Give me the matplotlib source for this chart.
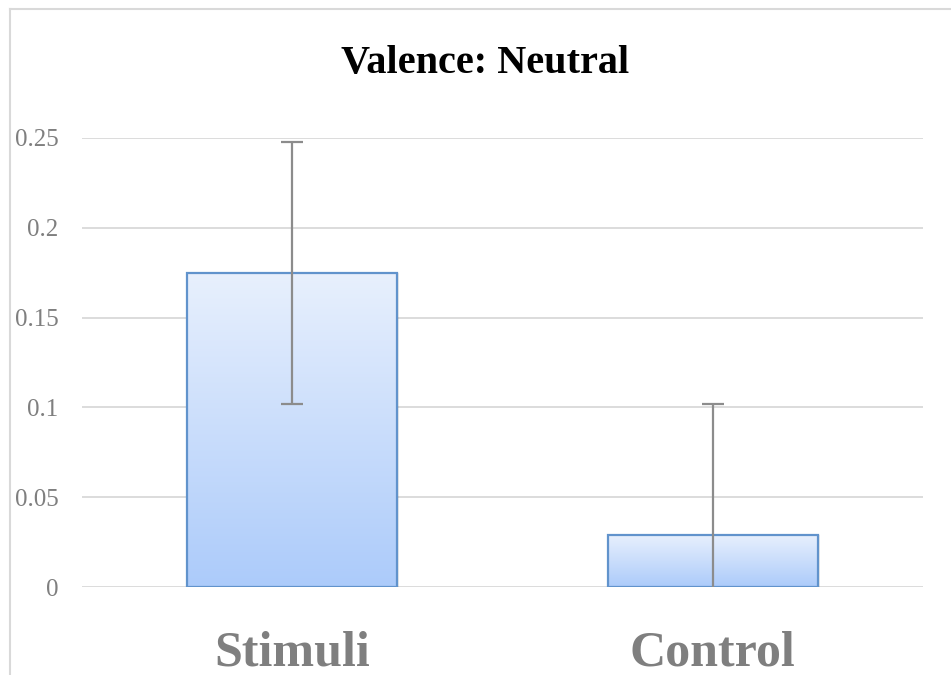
import numpy as np
import matplotlib
matplotlib.use("Agg")
import matplotlib.pyplot as plt
from matplotlib.patches import Rectangle
from matplotlib.lines import Line2D

# chart data
categories = ["Stimuli", "Control"]
means = [0.175, 0.029]
errors = [0.073, 0.073]
yticks = [0, 0.05, 0.1, 0.15, 0.2, 0.25]
ytick_labels = ["0", "0.05", "0.1", "0.15", "0.2", "0.25"]
title = "Valence: Neutral"

SERIF = "Liberation Serif"

fig = plt.figure(figsize=(9.51, 6.75), dpi=100)
ax = fig.add_axes([82 / 951, 1 - 587 / 675, 841 / 951, (587 - 138) / 675])

# outer chart frame (left and top edges visible)
fig.add_artist(Line2D([9.5 / 951, 9.5 / 951], [0, 1 - 8.5 / 675],
                      transform=fig.transFigure, color="#d9d9d9", lw=1.5))
fig.add_artist(Line2D([9.5 / 951, 950 / 951], [1 - 8.5 / 675, 1 - 8.5 / 675],
                      transform=fig.transFigure, color="#d9d9d9", lw=1.5))

x = np.arange(len(categories))
width = 0.5

# gridlines
for yv in yticks:
    ax.axhline(yv, color="#d9d9d9", lw=1.3, zorder=0)

# vertical gradient for the bar fill
grad = np.linspace(0, 1, 256)
top_c = np.array([232, 240, 253]) / 255
bot_c = np.array([172, 203, 250]) / 255
img = (top_c[None, :] * grad[:, None] + bot_c[None, :] * (1 - grad[:, None]))[:, None, :]

for xi, m in zip(x, means):
    left = xi - width / 2
    shadow = Rectangle((left + 0.004, 0), width, m, facecolor="#000000",
                       alpha=0.08, edgecolor="none", zorder=1)
    ax.add_patch(shadow)
    im = ax.imshow(img, extent=[left, left + width, 0, m], origin="lower",
                   aspect="auto", zorder=2, interpolation="bilinear")
    bar = Rectangle((left, 0), width, m, facecolor="none",
                    edgecolor="#6193cc", lw=1.6, zorder=3)
    ax.add_patch(bar)
    im.set_clip_path(bar)

ax.errorbar(x, means, yerr=errors, fmt="none", ecolor="#8c8c8c",
            elinewidth=1.6, capsize=8, capthick=1.6, zorder=4)

ax.set_xlim(-0.5, len(categories) - 0.5)
ax.set_ylim(0, 0.25)

for s in ax.spines.values():
    s.set_visible(False)

ax.set_yticks(yticks)
ax.set_yticklabels(ytick_labels, fontfamily=SERIF, fontsize=18, color="#7f7f7f")
ax.tick_params(axis="y", length=0, pad=17)
ax.set_xticks(x)
ax.set_xticklabels(categories, fontfamily=SERIF, fontsize=36,
                   fontweight="bold", color="#7f7f7f")
ax.tick_params(axis="x", length=0, pad=31)

fig.text(485 / 951, 1 - 73 / 675, title, ha="center", va="baseline",
         fontfamily=SERIF, fontsize=29, fontweight="bold", color="black")

fig.savefig("out.png", dpi=100)
